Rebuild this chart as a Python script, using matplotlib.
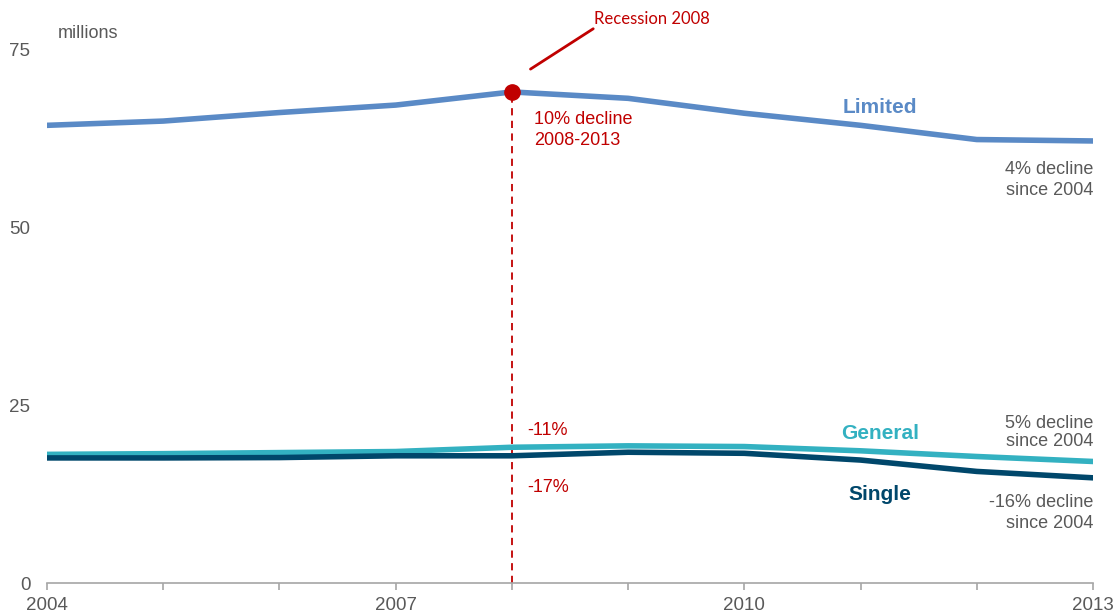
import numpy as np
import matplotlib
matplotlib.use("Agg")
import matplotlib.pyplot as plt

plt.rcParams['font.family'] = ['Liberation Sans', 'DejaVu Sans']

years = [2004, 2005, 2006, 2007, 2008, 2009, 2010, 2011, 2012, 2013]
limited = [64.4, 65.0, 66.2, 67.25, 69.1, 68.2, 66.1, 64.4, 62.4, 62.2]
general = [18.1, 18.2, 18.35, 18.5, 19.1, 19.3, 19.2, 18.6, 17.8, 17.1]
single = [17.6, 17.6, 17.65, 17.9, 17.9, 18.4, 18.25, 17.3, 15.7, 14.8]
major_years = [2004, 2007, 2010, 2013]
y_ticks = [0, 25, 50, 75]

c_limited = '#5A8AC6'
c_general = '#33B1C1'
c_single = '#00476B'
c_red = '#C00000'
c_gray = '#595959'

fig = plt.figure(figsize=(11.16, 6.13), dpi=100)
ax = fig.add_axes([47 / 1116, 1 - 583 / 613, 1046 / 1116, 533 / 613])

ax.plot(years, limited, color=c_limited, lw=4, solid_capstyle='round', solid_joinstyle='round')
ax.plot(years, general, color=c_general, lw=4, solid_capstyle='round', solid_joinstyle='round')
ax.plot(years, single, color=c_single, lw=4, solid_capstyle='round', solid_joinstyle='round')

# recession marker
rec = years.index(2008)
ax.plot([2008, 2008], [0, limited[rec]], color=c_red, lw=1.3, ls=(0, (4, 3)), zorder=1)
ax.plot(2008, limited[rec], 'o', color=c_red, ms=11, zorder=5, clip_on=False)
ax.annotate('', xy=(2008.14, 72.1), xytext=(2008.72, 78.2),
            arrowprops=dict(arrowstyle='-', color=c_red, lw=2), annotation_clip=False)
ax.text(2008.71, 79.3, 'Recession 2008', color=c_red, fontsize=12,
        family=['Lato', 'DejaVu Sans'], ha='left', va='center', clip_on=False)

ax.set_xlim(2004, 2013)
ax.set_ylim(0, 75)

for side in ['top', 'right', 'left']:
    ax.spines[side].set_visible(False)
ax.spines['bottom'].set_color('#A6A6A6')
ax.spines['bottom'].set_linewidth(1.2)

ax.set_xticks(major_years)
ax.set_xticks(years, minor=True)
ax.tick_params(axis='x', which='both', color='#A6A6A6', length=5, width=1.2,
               direction='out', labelcolor=c_gray, labelsize=13.5, pad=5)
ax.set_yticks(y_ticks)
ax.tick_params(axis='y', length=0, labelcolor=c_gray, labelsize=13.5, pad=12)

ax.text(2004.09, 77.3, 'millions', color=c_gray, fontsize=13, ha='left', va='center')

ax.text(2011.17, 66.85, 'Limited', color=c_limited, fontsize=15, fontweight='bold',
        ha='center', va='center')
ax.text(2011.17, 21.0, 'General', color=c_general, fontsize=15, fontweight='bold',
        ha='center', va='center')
ax.text(2011.17, 12.5, 'Single', color=c_single, fontsize=15, fontweight='bold',
        ha='center', va='center')

ax.text(2013, 56.7, '4% decline\nsince 2004', color=c_gray, fontsize=13,
        ha='right', va='center', linespacing=1.3)
ax.text(2013, 21.2, '5% decline\nsince 2004', color=c_gray, fontsize=13,
        ha='right', va='center', linespacing=1.1)
ax.text(2013, 9.85, '-16% decline\nsince 2004', color=c_gray, fontsize=13,
        ha='right', va='center', linespacing=1.3)

ax.text(2008.19, 63.75, '10% decline\n2008-2013', color=c_red, fontsize=13,
        ha='left', va='center', linespacing=1.3)
ax.text(2008.13, 21.5, '-11%', color=c_red, fontsize=13, ha='left', va='center')
ax.text(2008.13, 13.5, '-17%', color=c_red, fontsize=13, ha='left', va='center')

fig.savefig('out.png', dpi=100)
